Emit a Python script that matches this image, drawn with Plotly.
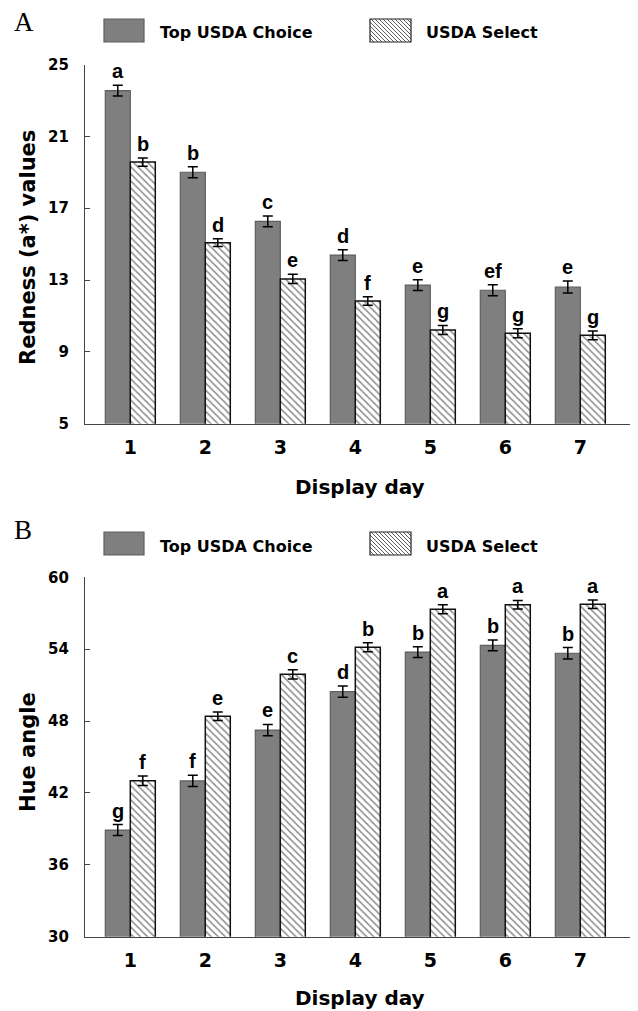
import plotly.graph_objects as go

# page is drawn with an 8 px body margin, so the figure is 8 px smaller each way
OFF = 8
W, H = 638 - OFF, 1011 - OFF

days = [1, 2, 3, 4, 5, 6, 7]
day_labels = ["1", "2", "3", "4", "5", "6", "7"]
series_names = ["Top USDA Choice", "USDA Select"]

# Panel A: Redness (a*)
a_choice = [23.54, 19.0, 16.27, 14.39, 12.72, 12.43, 12.61]
a_choice_err = [0.3, 0.3, 0.3, 0.3, 0.3, 0.3, 0.33]
a_choice_let = ["a", "b", "c", "d", "e", "ef", "e"]
a_select = [19.57, 15.08, 13.06, 11.83, 10.22, 10.04, 9.92]
a_select_err = [0.23, 0.22, 0.26, 0.24, 0.25, 0.25, 0.24]
a_select_let = ["b", "d", "e", "f", "g", "g", "g"]
a_ticks = [5, 9, 13, 17, 21, 25]

# Panel B: Hue angle
b_choice = [38.9, 43.0, 47.25, 50.45, 53.76, 54.32, 53.66]
b_choice_err = [0.46, 0.47, 0.47, 0.47, 0.45, 0.45, 0.47]
b_choice_let = ["g", "f", "e", "d", "b", "b", "b"]
b_select = [43.02, 48.4, 51.9, 54.16, 57.33, 57.71, 57.75]
b_select_err = [0.39, 0.35, 0.39, 0.38, 0.38, 0.36, 0.36]
b_select_let = ["f", "e", "c", "b", "a", "a", "a"]
b_ticks = [30, 36, 42, 48, 54, 60]

CHOICE_FILL = "#7f7f7f"
CHOICE_LINE = "#5e5e5e"
AXIS_COL = "#444444"
FONT = "DejaVu Sans, Arial, sans-serif"
ARIAL = "Liberation Sans, Arial, sans-serif"
SERIF = "Liberation Serif, Times New Roman, serif"


def px(x):
    return (x - OFF) / W


def py(y):
    return 1 - (y - OFF) / H


fig = go.Figure()

panels = [
    dict(xa="x", ya="y", choice=a_choice, ce=a_choice_err, cl=a_choice_let,
         select=a_select, se=a_select_err, sl=a_select_let),
    dict(xa="x2", ya="y2", choice=b_choice, ce=b_choice_err, cl=b_choice_let,
         select=b_select, se=b_select_err, sl=b_select_let),
]

annotations = []
shapes = []
letter_font = dict(family=ARIAL, size=20, color="black", weight="bold")
for p in panels:
    fig.add_trace(go.Bar(
        x=days, y=p["choice"], name=series_names[0], xaxis=p["xa"], yaxis=p["ya"],
        marker=dict(color=CHOICE_FILL, line=dict(color=CHOICE_LINE, width=1.2)),
        error_y=dict(type="data", array=p["ce"], color="black", thickness=1.5, width=5),
        showlegend=False, offsetgroup="c"))
    fig.add_trace(go.Bar(
        x=days, y=p["select"], name=series_names[1], xaxis=p["xa"], yaxis=p["ya"],
        marker=dict(color="white", line=dict(color="#111111", width=1.5),
                    pattern=dict(shape="\\", size=5, solidity=0.3,
                                 fgcolor="#1a1a1a", bgcolor="white")),
        error_y=dict(type="data", array=p["se"], color="black", thickness=1.5, width=5),
        showlegend=False, offsetgroup="s"))
    for i, d in enumerate(days):
        annotations.append(dict(
            x=d - 1 / 6, y=p["choice"][i] + p["ce"][i], xref=p["xa"], yref=p["ya"],
            text=p["cl"][i], showarrow=False, xanchor="center", yanchor="bottom",
            yshift=1, font=letter_font))
        annotations.append(dict(
            x=d + 1 / 6, y=p["select"][i] + p["se"][i], xref=p["xa"], yref=p["ya"],
            text=p["sl"][i], showarrow=False, xanchor="center", yanchor="bottom",
            yshift=1, font=letter_font))

# pixel geometry of the two plot areas (reference page pixels)
X_LEFT, X_RIGHT = 85, 637
A_TOP, A_BOT = 64.5, 423.7
B_TOP, B_BOT = 577.3, 936.7

axis_common = dict(showline=True, linecolor=AXIS_COL, linewidth=1.2, showgrid=False,
                   zeroline=False, automargin=False)
xcommon = dict(axis_common, range=[0.396, 7.756], tickvals=days, ticktext=day_labels,
               ticks="", tickfont=dict(family=FONT, size=19, color="black", weight="bold"),
               ticklabelstandoff=6,
               domain=[px(X_LEFT), px(X_RIGHT)])
ycommon = dict(axis_common, ticks="inside", ticklen=5, tickcolor=AXIS_COL,
               tickfont=dict(family=FONT, size=15, color="black", weight="bold"),
               ticklabelstandoff=12)

fig.update_layout(
    width=W, height=H, margin=dict(l=0, r=0, t=0, b=0),
    paper_bgcolor="white", plot_bgcolor="white",
    barmode="group", bargap=1 / 3, bargroupgap=0,
    font=dict(family=FONT, color="black"),
    xaxis=dict(xcommon, anchor="y"),
    yaxis=dict(ycommon, range=[5, 25], tickvals=a_ticks, anchor="x",
               domain=[py(A_BOT), py(A_TOP)]),
    xaxis2=dict(xcommon, anchor="y2"),
    yaxis2=dict(ycommon, range=[30, 60], tickvals=b_ticks, anchor="x2",
                domain=[py(B_BOT), py(B_TOP)]),
)

# axis titles and panel letters
title_font = dict(family=FONT, size=20, color="black", weight="bold")
ytitle_font = dict(family=FONT, size=21, color="black", weight="bold")


def label(x, y, text, font, angle=0):
    annotations.append(dict(x=px(x), y=py(y), xref="paper", yref="paper", text=text,
                            textangle=angle, showarrow=False, xanchor="center",
                            yanchor="middle", borderpad=0, font=font))


label(360, 487, "Display day", title_font)
label(360, 998, "Display day", title_font)
label(28, 248, "Redness (a*) values", ytitle_font, -90)
label(28, 752, "Hue angle", ytitle_font, -90)
label(24, 22, "A", dict(family=SERIF, size=27, color="black"))
label(23, 530, "B", dict(family=SERIF, size=27, color="black"))


# custom legends (large swatches as in the reference)
def legend(top):
    sw_h = 23
    leg_font = dict(family=FONT, size=16, color="black", weight="bold")
    shapes.append(dict(type="rect", xref="paper", yref="paper",
                       x0=px(104), x1=px(144), y0=py(top + sw_h), y1=py(top),
                       fillcolor=CHOICE_FILL, line=dict(color=CHOICE_LINE, width=1.2)))
    annotations.append(dict(x=px(158), y=py(top + 14), xref="paper", yref="paper",
                            xanchor="left", yanchor="middle", text=series_names[0],
                            showarrow=False, font=leg_font))
    x0, x1, y0, y1 = 370, 411, top, top + sw_h
    shapes.append(dict(type="rect", xref="paper", yref="paper",
                       x0=px(x0), x1=px(x1), y0=py(y1), y1=py(y0),
                       fillcolor="white", line=dict(color="#222222", width=1.2)))
    path = ""
    step = 4
    c = x0 - (y1 - y0)
    while c < x1:
        ya, yb = y0, y1
        xa, xb = c, c + (y1 - y0)
        if xa < x0:
            ya = y0 + (x0 - xa)
            xa = x0
        if xb > x1:
            yb = y1 - (xb - x1)
            xb = x1
        if ya < yb:
            path += f"M{px(xa):.5f},{py(ya):.5f} L{px(xb):.5f},{py(yb):.5f} "
        c += step
    shapes.append(dict(type="path", xref="paper", yref="paper", path=path,
                       line=dict(color="#333333", width=0.8)))
    annotations.append(dict(x=px(424), y=py(top + 14), xref="paper", yref="paper",
                            xanchor="left", yanchor="middle", text=series_names[1],
                            showarrow=False, font=leg_font))


legend(19)
legend(532)

fig.update_layout(annotations=annotations, shapes=shapes)
fig.write_html("out.html")
